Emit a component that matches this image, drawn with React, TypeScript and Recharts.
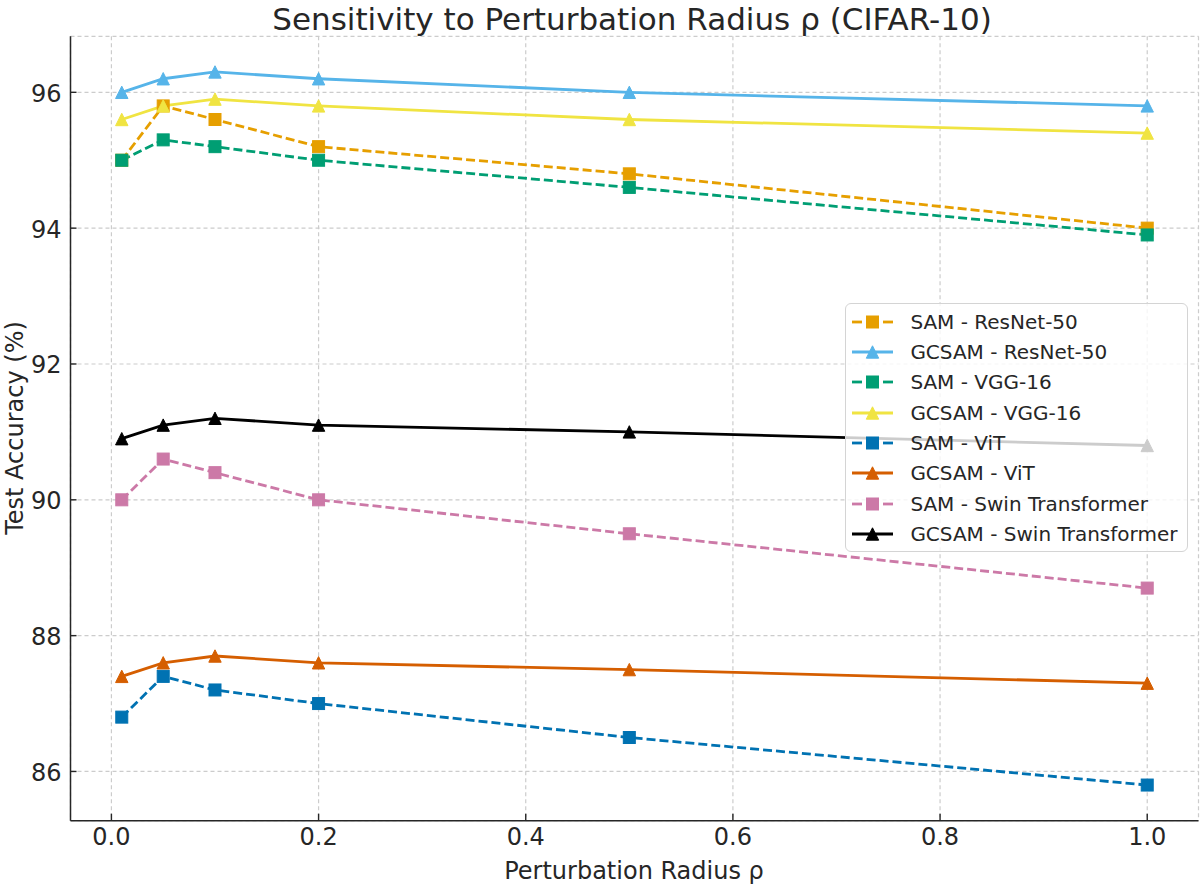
import { LineChart, Line, XAxis, YAxis, CartesianGrid, Legend } from "recharts";

// perturbation radius values on the x axis
const rho = [0.01, 0.05, 0.1, 0.2, 0.5, 1.0];

// test accuracy (%) per model / optimizer
const samResNet50 = [95.0, 95.8, 95.6, 95.2, 94.8, 94.0];
const gcsamResNet50 = [96.0, 96.2, 96.3, 96.2, 96.0, 95.8];
const samVgg16 = [95.0, 95.3, 95.2, 95.0, 94.6, 93.9];
const gcsamVgg16 = [95.6, 95.8, 95.9, 95.8, 95.6, 95.4];
const samVit = [86.8, 87.4, 87.2, 87.0, 86.5, 85.8];
const gcsamVit = [87.4, 87.6, 87.7, 87.6, 87.5, 87.3];
const samSwin = [90.0, 90.6, 90.4, 90.0, 89.5, 88.7];
const gcsamSwin = [90.9, 91.1, 91.2, 91.1, 91.0, 90.8];

const xTicks = [0, 0.2, 0.4, 0.6, 0.8, 1.0];
const yTicks = [86, 88, 90, 92, 94, 96];

const FONT = "'DejaVu Sans', sans-serif";
const INK = "#262626";

type Series = {
  key: string;
  name: string;
  values: number[];
  color: string;
  marker: "square" | "triangle";
  dashed: boolean;
};

const series: Series[] = [
  { key: "samResNet", name: "SAM - ResNet-50", values: samResNet50, color: "#E69F00", marker: "square", dashed: true },
  { key: "gcsamResNet", name: "GCSAM - ResNet-50", values: gcsamResNet50, color: "#56B4E9", marker: "triangle", dashed: false },
  { key: "samVgg", name: "SAM - VGG-16", values: samVgg16, color: "#009E73", marker: "square", dashed: true },
  { key: "gcsamVgg", name: "GCSAM - VGG-16", values: gcsamVgg16, color: "#F0E442", marker: "triangle", dashed: false },
  { key: "samVit", name: "SAM - ViT", values: samVit, color: "#0072B2", marker: "square", dashed: true },
  { key: "gcsamVit", name: "GCSAM - ViT", values: gcsamVit, color: "#D55E00", marker: "triangle", dashed: false },
  { key: "samSwin", name: "SAM - Swin Transformer", values: samSwin, color: "#CC79A7", marker: "square", dashed: true },
  { key: "gcsamSwin", name: "GCSAM - Swin Transformer", values: gcsamSwin, color: "#000000", marker: "triangle", dashed: false },
];

const data = rho.map((r, i) => {
  const row: Record<string, number> = { rho: r };
  series.forEach((s) => {
    row[s.key] = s.values[i];
  });
  return row;
});

function Marker({ cx, cy, color, kind }: { cx: number; cy: number; color: string; kind: "square" | "triangle" }) {
  if (kind === "square") {
    const h = 6;
    return <rect x={cx - h} y={cy - h} width={h * 2} height={h * 2} fill={color} stroke={color} strokeWidth={1} />;
  }
  const h = 6.2;
  return (
    <polygon
      points={`${cx},${cy - h} ${cx - h},${cy + h} ${cx + h},${cy + h}`}
      fill={color}
      stroke={color}
      strokeWidth={1}
      strokeLinejoin="miter"
    />
  );
}

function XTick(props: any) {
  const { x, y, payload } = props;
  return (
    <g>
      <line x1={x} x2={x} y1={y} y2={y - 7} stroke={INK} strokeWidth={1.4} />
      <text x={x} y={y + 24.5} textAnchor="middle" fontSize={24} fontFamily={FONT} fill={INK}>
        {Number(payload.value).toFixed(1)}
      </text>
    </g>
  );
}

function YTick(props: any) {
  const { x, y, payload } = props;
  return (
    <g>
      <line x1={x} x2={x + 6} y1={y} y2={y} stroke={INK} strokeWidth={1.4} />
      <text x={x - 9} y={y + 9.5} textAnchor="end" fontSize={24} fontFamily={FONT} fill={INK}>
        {payload.value}
      </text>
    </g>
  );
}

function LegendBox() {
  return (
    <div
      style={{
        width: 343,
        height: 249,
        boxSizing: "border-box",
        border: "1px solid #d4d4d4",
        borderRadius: 6,
        background: "rgba(255,255,255,0.8)",
        paddingTop: 2.5,
        fontFamily: FONT,
        fontSize: 20,
        color: INK,
      }}
    >
      {series.map((s) => (
        <div key={s.key} style={{ display: "flex", alignItems: "center", height: 30.33 }}>
          <svg width={41} height={20} style={{ marginLeft: 5.7, flex: "none", overflow: "visible" }}>
            {s.dashed ? (
              <g stroke={s.color} strokeWidth={2.8}>
                <line x1={0} x2={10} y1={10} y2={10} />
                <line x1={31} x2={41} y1={10} y2={10} />
              </g>
            ) : (
              <line x1={0} x2={41} y1={10} y2={10} stroke={s.color} strokeWidth={2.8} />
            )}
            <Marker cx={20.5} cy={10} color={s.color} kind={s.marker} />
          </svg>
          <span style={{ marginLeft: 17.7, whiteSpace: "nowrap", lineHeight: "20px" }}>{s.name}</span>
        </div>
      ))}
    </div>
  );
}

export default function App() {
  return (
    <div style={{ position: "absolute", left: 0, top: 0, width: 1200, height: 887, background: "#fff" }}>
      <LineChart width={1200} height={887} data={data} margin={{ top: 36.3, right: 1.5, bottom: 0, left: 0 }}>
        <CartesianGrid strokeDasharray="4 3" stroke="#cccccc" strokeWidth={1.2} />
        <XAxis
          type="number"
          dataKey="rho"
          domain={[-0.0395, 1.0495]}
          ticks={xTicks}
          interval={0}
          allowDataOverflow
          height={66.3}
          axisLine={{ stroke: INK, strokeWidth: 1.5 }}
          tickLine={false}
          tickSize={0}
          tickMargin={0}
          tick={(p: any) => <XTick {...p} />}
        />
        <YAxis
          type="number"
          domain={[85.275, 96.825]}
          ticks={yTicks}
          interval={0}
          allowDataOverflow
          width={70.5}
          axisLine={{ stroke: INK, strokeWidth: 1.5 }}
          tickLine={false}
          tickSize={0}
          tickMargin={0}
          tick={(p: any) => <YTick {...p} />}
        />
        {series.map((s) => (
          <Line
            key={s.key}
            type="linear"
            dataKey={s.key}
            name={s.name}
            stroke={s.color}
            strokeWidth={2.8}
            strokeDasharray={s.dashed ? "9 4" : undefined}
            activeDot={false}
            isAnimationActive={false}
            dot={(p: any) => (
              <Marker key={`${s.key}-${p.index}`} cx={p.cx} cy={p.cy} color={s.color} kind={s.marker} />
            )}
          />
        ))}
        <Legend
          layout="horizontal"
          verticalAlign="middle"
          align="center"
          wrapperStyle={{ left: 845, top: 303, width: 343, height: 249 }}
          content={() => <LegendBox />}
        />
      </LineChart>
      <svg
        width={1200}
        height={887}
        style={{ position: "absolute", left: 0, top: 0, pointerEvents: "none" }}
        fontFamily={FONT}
        fill={INK}
      >
        <text x={632} y={30} textAnchor="middle" fontSize={31}>
          Sensitivity to Perturbation Radius ρ (CIFAR-10)
        </text>
        <text x={634} y={879} textAnchor="middle" fontSize={24}>
          Perturbation Radius ρ
        </text>
        <text transform="translate(23, 428) rotate(-90)" textAnchor="middle" fontSize={24}>
          Test Accuracy (%)
        </text>
      </svg>
    </div>
  );
}
